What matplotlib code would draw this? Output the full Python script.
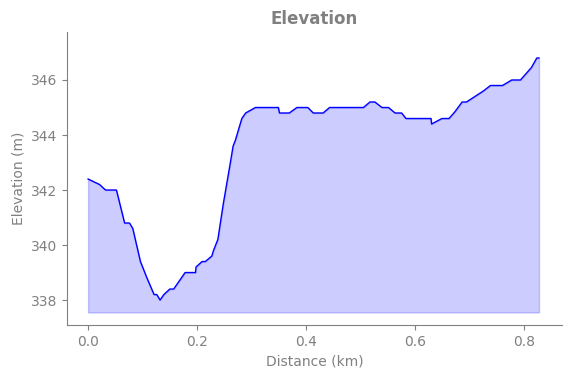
import numpy as np
import matplotlib
matplotlib.use('Agg')
import matplotlib.pyplot as plt

# distance (km) and elevation (m)
distance = [0.0, 0.021, 0.032, 0.052, 0.067, 0.076, 0.082, 0.096, 0.108, 0.121,
            0.126, 0.132, 0.139, 0.150, 0.157, 0.178, 0.197, 0.198, 0.209, 0.215,
            0.227, 0.230, 0.238, 0.248, 0.261, 0.266, 0.270, 0.282, 0.289, 0.307,
            0.349, 0.351, 0.369, 0.383, 0.403, 0.413, 0.431, 0.443, 0.505, 0.517,
            0.526, 0.539, 0.551, 0.563, 0.575, 0.583, 0.629, 0.630, 0.649, 0.662,
            0.673, 0.686, 0.694, 0.725, 0.738, 0.760, 0.777, 0.793, 0.813, 0.823,
            0.827]
elevation = [342.4, 342.2, 342.0, 342.0, 340.8, 340.8, 340.6, 339.4, 338.8, 338.2,
             338.2, 338.0, 338.2, 338.4, 338.4, 339.0, 339.0, 339.2, 339.4, 339.4,
             339.6, 339.8, 340.2, 341.5, 343.0, 343.6, 343.8, 344.6, 344.8, 345.0,
             345.0, 344.8, 344.8, 345.0, 345.0, 344.8, 344.8, 345.0, 345.0, 345.2,
             345.2, 345.0, 345.0, 344.8, 344.8, 344.6, 344.6, 344.4, 344.6, 344.6,
             344.85, 345.2, 345.2, 345.6, 345.8, 345.8, 346.0, 346.0, 346.45, 346.8,
             346.8]
baseline = 337.55

grey = 'gray'

fig, ax = plt.subplots(figsize=(5.71, 3.78), dpi=100)
ax.fill_between(distance, elevation, baseline, color='blue', alpha=0.2)
ax.plot(distance, elevation, color='blue', linewidth=1)

ax.set_title('Elevation', fontsize=12, fontweight='bold', color=grey)
ax.set_xlabel('Distance (km)', color=grey)
ax.set_ylabel('Elevation (m)', color=grey)
ax.set_xlim(-0.039, 0.870)
ax.set_ylim(337.09, 347.74)
ax.set_yticks([338, 340, 342, 344, 346])
ax.set_xticks([0.0, 0.2, 0.4, 0.6, 0.8])
ax.tick_params(colors=grey, labelcolor=grey)
ax.spines['top'].set_visible(False)
ax.spines['right'].set_visible(False)
ax.spines['left'].set_color(grey)
ax.spines['bottom'].set_color(grey)

fig.subplots_adjust(left=0.117, right=0.985, top=0.915, bottom=0.14)
plt.savefig('out.png', dpi=100)
